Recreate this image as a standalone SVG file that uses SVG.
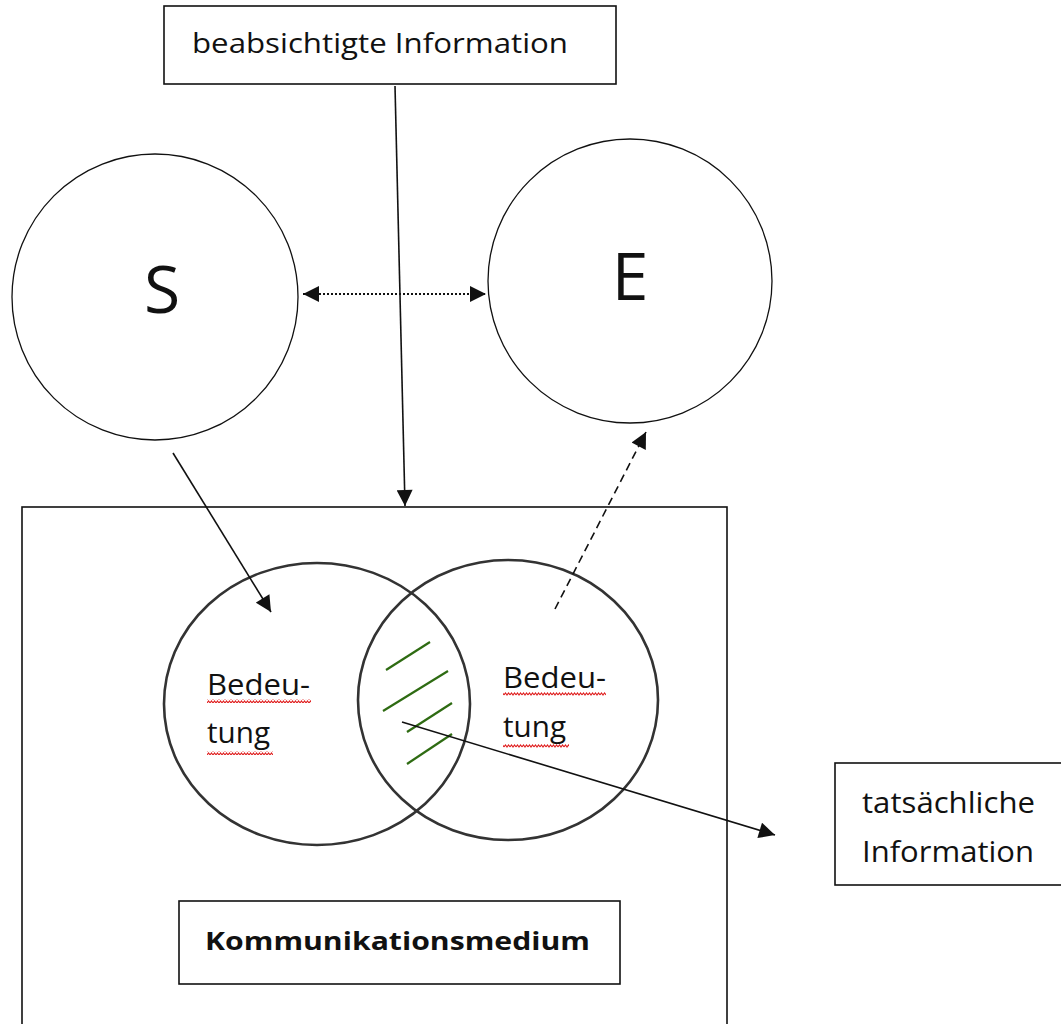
<svg xmlns="http://www.w3.org/2000/svg" width="1061" height="1024" viewBox="0 0 1061 1024">
<style>
.box{fill:#fff;stroke:#111;stroke-width:1.6}
.circ{fill:none;stroke:#111;stroke-width:1.3}
.venn{fill:none;stroke:#333;stroke-width:2.6}
.t{font-family:"Open Sans","Noto Sans",sans-serif;fill:#111}
.ln{stroke:#111;stroke-width:1.6;fill:none}
.hatch{stroke:#2e6b12;stroke-width:2.2}
.wave{fill:none;stroke:#e02020;stroke-width:1.1}
</style>
<defs>
<marker id="ahL" viewBox="0 0 10 10" refX="10" refY="5" markerWidth="18" markerHeight="16" markerUnits="userSpaceOnUse" orient="auto-start-reverse">
<path d="M0,0 L10,5 L0,10 z" fill="#111"/>
</marker>
<pattern id="wv" width="6" height="4" patternUnits="userSpaceOnUse">
<path d="M0,3 L1.5,1 L3,3 L4.5,1 L6,3" class="wave"/>
</pattern>
</defs>

<g id="medium">
<rect class="box" x="22" y="507" width="705" height="530"/>
</g>

<g id="intended">
<rect class="box" x="164" y="6" width="452" height="78"/>
<text class="t" x="192" y="53" font-size="28" textLength="376" lengthAdjust="spacingAndGlyphs">beabsichtigte Information</text>
</g>

<g id="sender">
<circle class="circ" cx="155" cy="297" r="143"/>
<text class="t" x="162" y="313" font-size="66" text-anchor="middle">S</text>
</g>

<g id="receiver">
<circle class="circ" cx="630" cy="281" r="142"/>
<text class="t" x="630" y="300" font-size="66" text-anchor="middle">E</text>
</g>

<g id="meaning-left">
<ellipse class="venn" cx="317" cy="704" rx="153" ry="141"/>
<text class="t" x="207" y="695" font-size="30" textLength="103" lengthAdjust="spacingAndGlyphs">Bedeu-</text>
<text class="t" x="207" y="743" font-size="30" textLength="63" lengthAdjust="spacingAndGlyphs">tung</text>
<rect x="207" y="699" width="104" height="4" fill="url(#wv)"/>
<rect x="207" y="751" width="66" height="4" fill="url(#wv)"/>
</g>

<g id="meaning-right">
<ellipse class="venn" cx="508" cy="700" rx="150" ry="140"/>
<text class="t" x="503" y="688" font-size="30" textLength="103" lengthAdjust="spacingAndGlyphs">Bedeu-</text>
<text class="t" x="503" y="737" font-size="30" textLength="63" lengthAdjust="spacingAndGlyphs">tung</text>
<rect x="503" y="692" width="103" height="4" fill="url(#wv)"/>
<rect x="503" y="744" width="66" height="4" fill="url(#wv)"/>
</g>

<g id="overlap">
<line class="hatch" x1="386" y1="670" x2="430" y2="642"/>
<line class="hatch" x1="383" y1="711" x2="448" y2="671"/>
<line class="hatch" x1="407" y1="732" x2="452" y2="703"/>
<line class="hatch" x1="407" y1="764" x2="452" y2="734"/>
</g>

<g id="actual">
<rect class="box" x="835" y="763" width="240" height="122"/>
<text class="t" x="862" y="813" font-size="29" textLength="173" lengthAdjust="spacingAndGlyphs">tatsächliche</text>
<text class="t" x="862" y="862" font-size="29" textLength="172" lengthAdjust="spacingAndGlyphs">Information</text>
</g>

<g id="medium-label">
<rect class="box" x="179" y="901" width="441" height="83"/>
<text class="t" x="205" y="950" font-size="25" font-weight="bold" textLength="385" lengthAdjust="spacingAndGlyphs">Kommunikationsmedium</text>
</g>

<g id="connectors">
<line class="ln" x1="395" y1="86" x2="405" y2="506" marker-end="url(#ahL)"/>
<line x1="303" y1="294" x2="486" y2="294" stroke="#111" stroke-width="2" stroke-dasharray="2,2" marker-start="url(#ahL)" marker-end="url(#ahL)"/>
<line class="ln" x1="173" y1="453" x2="271" y2="612" marker-end="url(#ahL)"/>
<line class="ln" x1="555" y1="609" x2="646" y2="432" stroke-dasharray="8,5" marker-end="url(#ahL)"/>
<line class="ln" x1="402" y1="722" x2="775" y2="835" marker-end="url(#ahL)"/>
</g>
</svg>
